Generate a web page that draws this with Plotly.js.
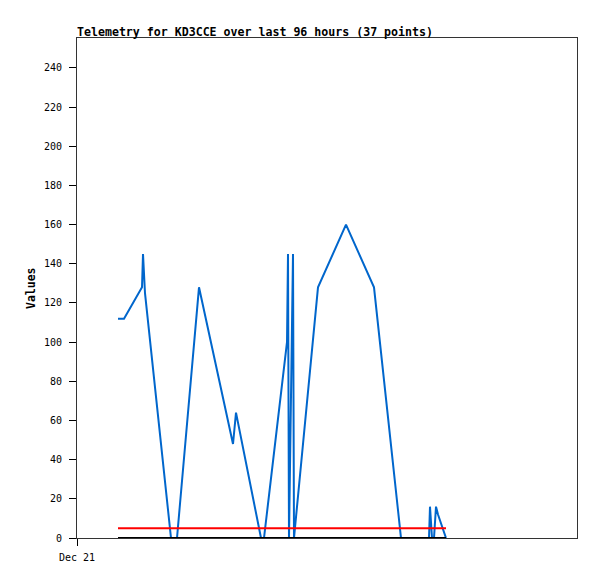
<!DOCTYPE html>
<html>
<head>
<meta charset="utf-8">
<script src="https://cdn.plot.ly/plotly-3.0.1.min.js"></script>
<style>html,body{margin:0;padding:0;background:#fff;}#chart{width:597px;height:579px;}</style>
</head>
<body>
<div id="chart"></div>
<script>
// Hours after Dec 21 00:00 and telemetry values
const hours = [8.2, 9.4, 13.0, 13.2, 13.6, 18.8, 20.0, 24.4, 31.2, 31.8, 36.8, 37.4, 42.0, 42.2, 42.4, 43.2, 43.4, 48.2, 53.8, 59.4, 64.8, 70.4, 70.6, 71.0, 71.4, 71.8, 72.2, 73.8];
const values = [112, 112, 128, 145, 125, 0, 0, 128, 48, 64, 0, 0, 100, 145, 0, 145, 0, 128, 160, 128, 0, 0, 16, 0, 0, 16, 12, 0];
const redLevel = 5;
const baseLevel = 0;
const lineStart = 8.2;
const lineEnd = 73.8;
const xTickVals = [0];
const xTickText = ['Dec 21'];
const yTickVals = [0, 20, 40, 60, 80, 100, 120, 140, 160, 180, 200, 220, 240];

const traces = [
  {x: hours, y: values, type: 'scatter', mode: 'lines', line: {color: '#0066cc', width: 2}, hoverinfo: 'skip'},
  {x: [lineStart, lineEnd], y: [redLevel, redLevel], type: 'scatter', mode: 'lines', line: {color: '#ff0000', width: 2}, hoverinfo: 'skip'},
  {x: [lineStart, lineEnd], y: [baseLevel, baseLevel], type: 'scatter', mode: 'lines', line: {color: '#000000', width: 2}, hoverinfo: 'skip', cliponaxis: false}
];

const layout = {
  width: 597, height: 579,
  margin: {l: 77, r: 20, t: 38, b: 41},
  paper_bgcolor: '#ffffff', plot_bgcolor: '#ffffff',
  showlegend: false,
  title: {
    text: '<b>Telemetry for KD3CCE over last 96 hours (37 points)</b>',
    font: {family: 'DejaVu Sans Mono', size: 11.6, color: '#000'},
    x: 0, xref: 'paper', xanchor: 'left',
    y: 1 - 32/579, yref: 'container', yanchor: 'middle'
  },
  xaxis: {
    range: [0, 100], tickvals: xTickVals, ticktext: xTickText,
    showgrid: false, zeroline: false, showline: true, mirror: true,
    linecolor: '#333', linewidth: 1, ticks: 'outside', ticklen: 7, tickcolor: '#000',
    ticklabelstandoff: 3,
    tickfont: {family: 'DejaVu Sans Mono', size: 10, color: '#000'}
  },
  yaxis: {
    range: [0, 255.3], tickvals: yTickVals,
    showgrid: false, zeroline: false, showline: true, mirror: true,
    linecolor: '#333', linewidth: 1, ticks: 'outside', ticklen: 7, tickcolor: '#000',
    ticklabelstandoff: 5,
    tickfont: {family: 'DejaVu Sans Mono', size: 10, color: '#000'}
  },
  annotations: [{
    text: '<b>Values</b>', textangle: -90, showarrow: false,
    xref: 'paper', yref: 'paper', x: (31 - 77) / 500, y: 0.5,
    xanchor: 'center', yanchor: 'middle',
    font: {family: 'DejaVu Sans Mono', size: 11.5, color: '#000'}
  }]
};

Plotly.newPlot('chart', traces, layout, {displayModeBar: false, staticPlot: true});
</script>
</body>
</html>
